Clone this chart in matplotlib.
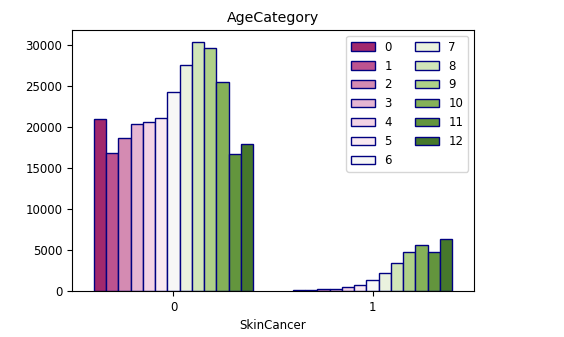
import matplotlib
matplotlib.use("Agg")
import matplotlib.pyplot as plt
import numpy as np
import seaborn as sns

categories = ["0", "1"]
age_labels = [str(i) for i in range(13)]
counts_0 = [20900, 16850, 18600, 20300, 20650, 21050, 24200, 27550, 30300, 29550, 25450, 16700, 17850]
counts_1 = [100, 140, 190, 250, 480, 780, 1300, 2250, 3400, 4700, 5600, 4800, 6300]

colors = [sns.desaturate(c, 0.75) for c in sns.color_palette("PiYG", 13)]

plt.rcParams["font.size"] = 8.5
fig = plt.figure(figsize=(5.64, 3.37), dpi=100)
ax = fig.add_axes([72/564, (337-291)/337, (474-72)/564, (291-30)/337])

n = len(age_labels)
w = 0.8 / n
x = np.arange(len(categories))
for i in range(n):
    offs = -0.4 + w * (i + 0.5)
    ax.bar(x + offs, [counts_0[i], counts_1[i]], width=w, color=colors[i],
           edgecolor="navy", linewidth=1, label=age_labels[i])

ax.set_xticks(x)
ax.set_xticklabels(categories)
ax.set_xlim(-0.51, 1.51)
ax.set_ylim(0, 31800)
ax.set_xlabel("SkinCancer", fontsize=8.5)
ax.set_title("AgeCategory", fontsize=10.2)
ax.legend(ncol=2, loc="upper right", fontsize=8.5)
fig.savefig("out.png", dpi=100)
